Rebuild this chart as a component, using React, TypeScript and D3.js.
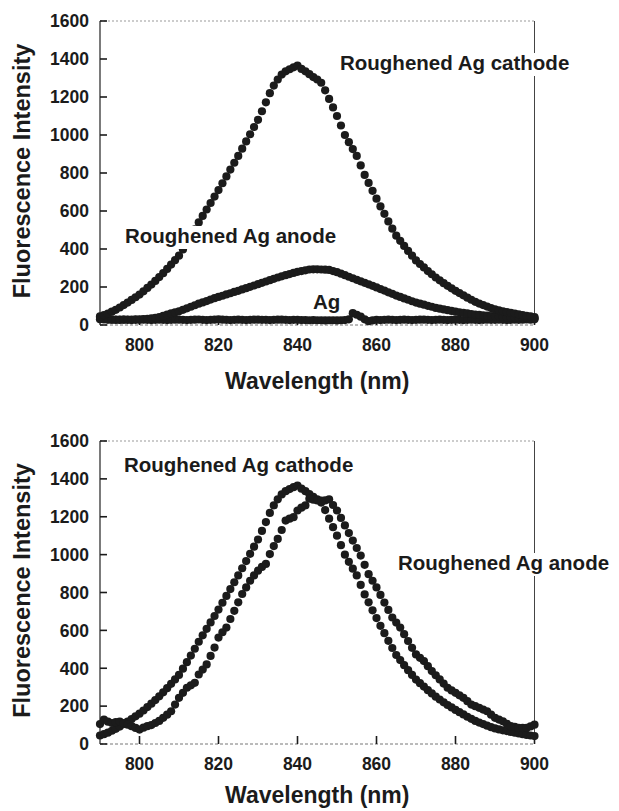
import React from "react";
import * as d3 from "d3";

// Wavelength grid (nm), one reading per nm
const wavelengths: number[] = d3.range(790, 901);

// Roughened Ag cathode (same spectrum in both panels)
const cathode: number[] = [
  45, 52, 60, 70, 80, 92, 105, 118, 132, 146,
  160, 177, 195, 213, 232, 252, 273, 295, 318, 341,
  365, 398, 432, 467, 503, 540, 574, 608, 642, 676,
  710, 746, 782, 818, 854, 890, 928, 966, 1004, 1042,
  1080, 1125, 1172, 1220, 1260, 1292, 1318, 1335, 1346, 1356,
  1365, 1348, 1335, 1320, 1305, 1292, 1275, 1235, 1190, 1145,
  1100, 1050, 1000, 962, 926, 890, 840, 790, 748, 706,
  665, 624, 585, 545, 507, 470, 443, 416, 390, 365,
  340, 321, 303, 284, 267, 250, 235, 220, 206, 193,
  180, 168, 156, 144, 133, 122, 113, 105, 97, 89,
  82, 77, 72, 68, 64, 60, 56, 52, 48, 45,
  42,
];

// Roughened Ag anode, raw (top panel)
const anodeRaw: number[] = [
  30, 29, 28, 28, 28, 28, 28, 29, 29, 30,
  30, 31, 33, 35, 38, 42, 48, 55, 61, 66,
  72, 80, 88, 96, 104, 112, 119, 126, 134, 141,
  148, 154, 161, 167, 174, 180, 187, 194, 201, 208,
  215, 222, 229, 236, 243, 250, 256, 262, 268, 274,
  280, 284, 288, 292, 293, 293, 292, 291, 290, 284,
  278, 270, 262, 254, 246, 238, 230, 222, 214, 206,
  198, 189, 181, 172, 164, 155, 148, 140, 133, 125,
  118, 112, 107, 101, 96, 90, 86, 82, 78, 74,
  70, 67, 64, 61, 58, 55, 53, 51, 49, 47,
  45, 44, 42, 41, 39, 38, 38, 37, 37, 36,
  36,
];

// Bare Ag (top panel)
const bareAg: number[] = [
  38, 34, 30, 28, 27, 27, 28, 27, 26, 27,
  27, 28, 27, 26, 27, 28, 27, 26, 27, 28,
  28, 27, 26, 27, 28, 29, 27, 26, 27, 28,
  30, 28, 27, 26, 27, 28, 27, 26, 27, 28,
  28, 27, 27, 26, 27, 28, 28, 27, 26, 27,
  27, 26, 26, 25, 26, 25, 25, 24, 25, 25,
  24, 25, 26, 30, 62, 54, 44, 30, 20, 24,
  27, 26, 27, 28, 27, 26, 27, 28, 27, 26,
  27, 28, 28, 27, 26, 27, 28, 27, 26, 27,
  28, 27, 26, 27, 28, 27, 26, 27, 28, 27,
  27, 28, 27, 26, 27, 28, 27, 28, 29, 28,
  30,
];

// Roughened Ag anode, normalized (bottom panel)
const anodeNorm: number[] = [
  105, 129, 118, 111, 115, 118, 111, 102, 94, 85,
  76, 86, 94, 100, 111, 122, 138, 155, 173, 208,
  244, 270, 297, 310, 323, 367, 393, 420, 465, 509,
  562, 590, 615, 660, 703, 748, 792, 827, 862, 890,
  915, 935, 951, 1003, 1045, 1083, 1130, 1180, 1190, 1198,
  1233, 1248, 1260, 1295, 1290, 1286, 1285, 1286, 1292, 1262,
  1233, 1194, 1154, 1114, 1074, 1035, 995, 946, 897, 862,
  827, 787, 747, 708, 668, 641, 615, 580, 544, 508,
  473, 455, 438, 411, 385, 363, 341, 319, 297, 283,
  270, 257, 244, 226, 208, 200, 191, 182, 173, 155,
  138, 129, 120, 107, 94, 90, 85, 85, 85, 93,
  102,
];

const yTicks: number[] = [0, 200, 400, 600, 800, 1000, 1200, 1400, 1600];
const xTicks: number[] = [800, 820, 840, 860, 880, 900];

const FONT = "'Liberation Sans', Arial, Helvetica, sans-serif";
const INK = "#1b1b1b";

type Label = { text: string; x: number; y: number };

function Panel({
  top,
  bottom,
  series,
  labels,
  titleOffset,
}: {
  top: number;
  bottom: number;
  series: number[][];
  labels: Label[];
  titleOffset: number;
}) {
  const left = 100;
  const right = 534.5;
  const x = d3.scaleLinear().domain([790, 900]).range([left, right]);
  const y = d3.scaleLinear().domain([0, 1600]).range([bottom, top]);
  const fs = 20.5;
  const charW = (t: string) => t.length * fs * 0.56;
  return (
    <g>
      {/* frame */}
      <line x1={left} x2={right} y1={top} y2={top} stroke="#999" strokeWidth={1} strokeDasharray="2 2" />
      <line x1={left} x2={right} y1={bottom} y2={bottom} stroke="#777" strokeWidth={1} strokeDasharray="3 2" />
      <line x1={right} x2={right} y1={top} y2={bottom} stroke="#444" strokeWidth={1} />
      <line x1={left} x2={left} y1={top} y2={bottom} stroke="#333" strokeWidth={1.3} />
      {yTicks.map((t) => (
        <g key={t}>
          <line x1={left} x2={left + 7} y1={y(t)} y2={y(t)} stroke={INK} strokeWidth={1.6} />
          <text
            x={89}
            y={y(t)}
            dy="0.36em"
            textAnchor="end"
            fontFamily={FONT}
            fontWeight="bold"
            fontSize={17.5}
            fill={INK}
          >
            {t}
          </text>
        </g>
      ))}
      {xTicks.map((t) => (
        <g key={t}>
          <line x1={x(t)} x2={x(t)} y1={bottom} y2={bottom - 8} stroke={INK} strokeWidth={1.6} />
          <text
            x={x(t)}
            y={bottom + 26}
            textAnchor="middle"
            fontFamily={FONT}
            fontWeight="bold"
            fontSize={17.5}
            fill={INK}
          >
            {t}
          </text>
        </g>
      ))}
      {/* data */}
      {series.map((s, si) => (
        <g key={si}>
          {s.map((v, i) => (
            <circle key={i} cx={x(wavelengths[i])} cy={y(v)} r={4.1} fill={INK} />
          ))}
        </g>
      ))}
      {/* labels with white backing */}
      {labels.map((l, i) => (
        <g key={i}>
          <rect x={l.x - 3} y={l.y - 17} width={charW(l.text) + 6} height={23} fill="#fff" />
          <text x={l.x} y={l.y} fontFamily={FONT} fontWeight="bold" fontSize={fs} fill={INK}>
            {l.text}
          </text>
        </g>
      ))}
      {/* axis titles */}
      <text
        x={(left + right) / 2}
        y={bottom + titleOffset}
        textAnchor="middle"
        fontFamily={FONT}
        fontWeight="bold"
        fontSize={23}
        fill={INK}
      >
        Wavelength (nm)
      </text>
      <text
        transform={`translate(30,${(top + bottom) / 2 - 2}) rotate(-90)`}
        textAnchor="middle"
        fontFamily={FONT}
        fontWeight="bold"
        fontSize={23.5}
        fill={INK}
      >
        Fluorescence Intensity
      </text>
    </g>
  );
}

export default function App() {
  return (
    <svg
      width={619}
      height={811}
      style={{ position: "absolute", left: 0, top: 0, background: "#fff" }}
    >
      <rect width={619} height={811} fill="#fff" />
      <Panel
        top={21}
        bottom={325}
        titleOffset={64}
        series={[bareAg, anodeRaw, cathode]}
        labels={[
          { text: "Roughened Ag cathode", x: 340, y: 70 },
          { text: "Roughened Ag anode", x: 125, y: 243 },
          { text: "Ag", x: 313, y: 309 },
        ]}
      />
      <Panel
        top={441}
        bottom={744}
        titleOffset={59}
        series={[cathode, anodeNorm]}
        labels={[
          { text: "Roughened Ag cathode", x: 124, y: 472 },
          { text: "Roughened Ag anode", x: 398, y: 570 },
        ]}
      />
    </svg>
  );
}
